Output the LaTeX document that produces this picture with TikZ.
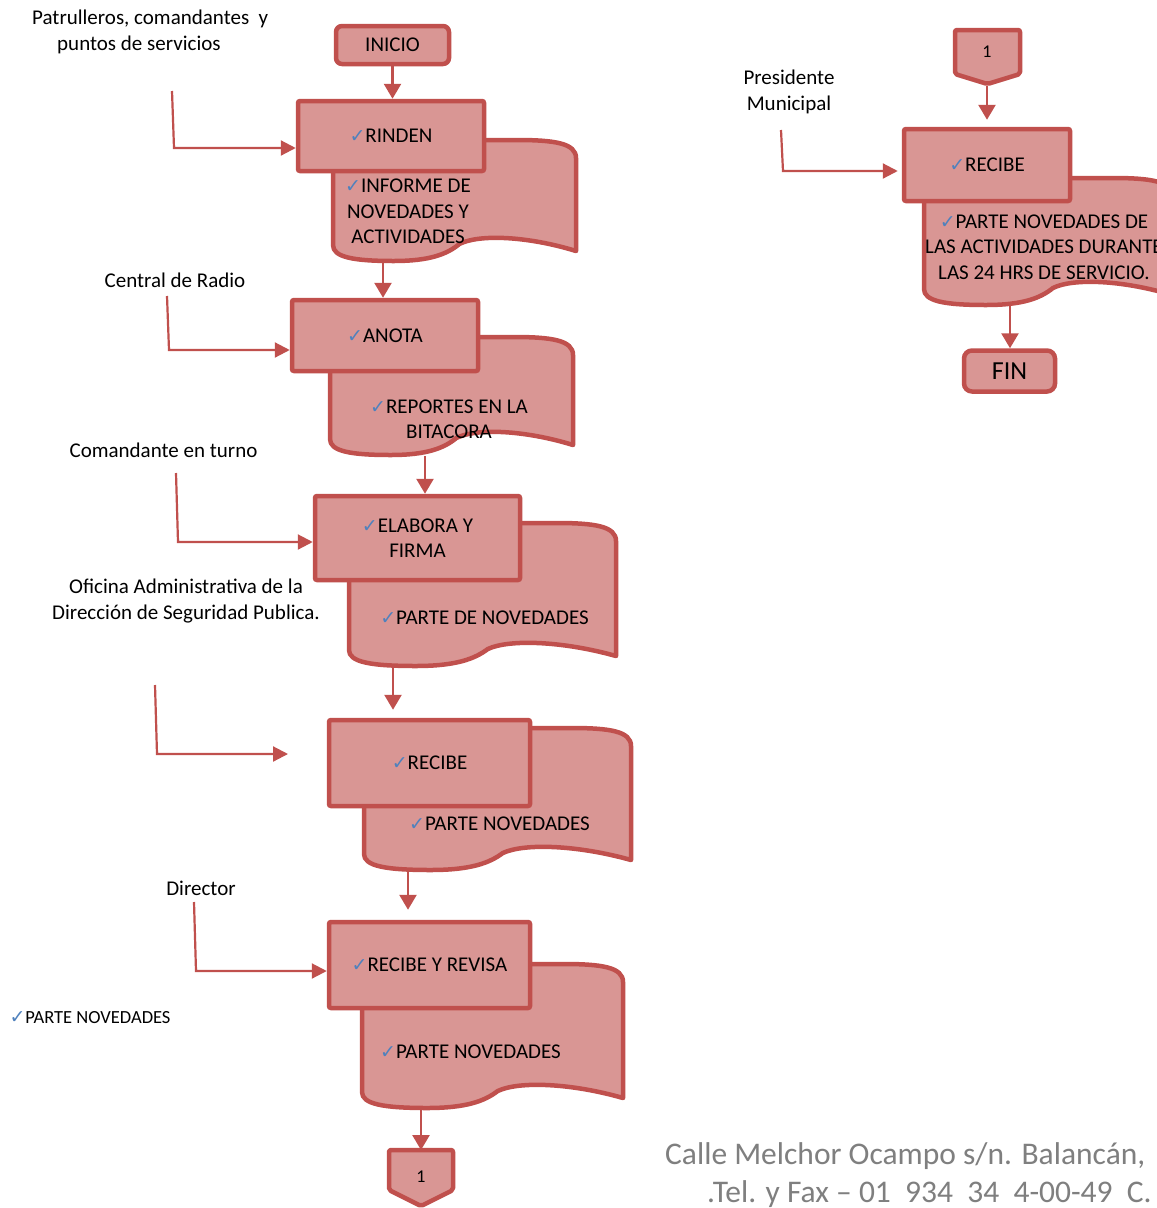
\documentclass[tikz,border=0pt]{standalone}
\usepackage{fontspec}
\setmainfont{Carlito}
\newfontfamily\symf{DejaVu Sans}
\usetikzlibrary{arrows.meta}

\definecolor{edge}{HTML}{C0504D}
\definecolor{fillc}{HTML}{D99694}
\definecolor{chkblue}{HTML}{4F81BD}
\definecolor{foot}{HTML}{7F7F7F}

\newcommand\lbl{\fontsize{21}{26}\selectfont}
\newcommand\boxf{\fontsize{21}{25.5}\selectfont}
\newcommand\chk{{\symf\fontsize{19}{19}\selectfont\color{chkblue}✓}}

% document symbol: left x, right x, top y, bottom y at the right edge
\newcommand\docshape[4]{%
  \path[docbody] (#1,#3) -- ({#2-60},#3)
    .. controls ({#2-22},#3) and (#2,{#3+3}) .. (#2,{#3+18})
    -- (#2,#4)
    .. controls ({#2-0.2*(#2-#1)},{#4-15}) and ({#1+0.6*(#2-#1)},{#4-17}) .. ({#1+0.52*(#2-#1)},{#4-7})
    .. controls ({#1+0.47*(#2-#1)},{#4+3}) and ({#1+0.4*(#2-#1)},{#4+10}) .. ({#1+0.25*(#2-#1)},{#4+10})
    .. controls ({#1+0.08*(#2-#1)},{#4+10}) and (#1,{#4+6}) .. (#1,{#4-6})
    -- cycle;}

\begin{document}
\begin{tikzpicture}[x=1pt,y=-1pt,
  procbox/.style={draw=edge, fill=fillc, line width=4.5pt, rounded corners=2pt,
    inner sep=0pt, align=center, font=\boxf},
  docbody/.style={draw=edge, fill=fillc, line width=4.5pt, line join=round},
  flow/.style={draw=edge, line width=2.6pt, -{Triangle[length=15pt,width=17pt]}},
  feed/.style={draw=edge, line width=2.2pt, -{Triangle[length=15pt,width=15pt]}},
  txt/.style={align=center, font=\lbl, inner sep=0pt},
  doctxt/.style={align=center, font=\boxf, inner sep=0pt},
]
\fill[white] (0,0) rectangle (1157,1208);
\useasboundingbox (0,0) rectangle (1157,1208);

% ---------- left column ----------
\node[procbox, rounded corners=6pt, minimum width=113pt, minimum height=38pt] (ini) at (392.5,45) {INICIO};

\docshape{333}{576}{140}{251}
\node[procbox, minimum width=186pt, minimum height=70pt] (r1) at (391,136) {\chk RINDEN};
\node[doctxt] (t1) at (408,211.5) {\chk INFORME DE\\NOVEDADES Y\\ACTIVIDADES};
\coordinate (d1b) at (383,262);

\docshape{330}{573}{337}{445}
\node[procbox, minimum width=186pt, minimum height=71pt] (r2) at (385,335.5) {\chk ANOTA};
\node[doctxt] (t2) at (449,419.5) {\chk REPORTES EN LA\\BITACORA};
\coordinate (d2b) at (425,456);

\docshape{349}{616}{523}{656}
\node[procbox, minimum width=205pt, minimum height=84pt] (r3) at (417.5,538) {\chk ELABORA Y\\FIRMA};
\node[doctxt] (t3) at (484.5,618) {\chk PARTE DE NOVEDADES};
\coordinate (d3b) at (393,668);

\docshape{364}{631}{728}{860}
\node[procbox, minimum width=201pt, minimum height=86pt] (r4) at (429.5,763) {\chk RECIBE};
\node[doctxt] (t4) at (499.5,824) {\chk PARTE NOVEDADES};
\coordinate (d4b) at (408,872);

\docshape{362}{623}{964}{1098}
\node[procbox, minimum width=201pt, minimum height=86pt] (r5) at (429.5,965) {\chk RECIBE Y REVISA};
\node[doctxt] (t5) at (470.5,1052) {\chk PARTE NOVEDADES};
\coordinate (d5b) at (421,1110);

% off-page connector at the foot of the page
\path[docbody, rounded corners=2pt] (389,1150) -- (453,1150) -- (453,1190) -- (421,1206) -- (389,1190) -- cycle;
\node[txt, font=\fontsize{18}{18}\selectfont] (c1) at (421,1177) {1};
\coordinate (c1top) at (421,1150);

% ---------- right column ----------
\path[docbody, rounded corners=2pt] (955,30) -- (1020,30) -- (1020,74) -- (987.5,84) -- (955,74) -- cycle;
\node[txt, font=\fontsize{18}{18}\selectfont] (c2) at (987,52) {1};
\coordinate (c2tip) at (987,86);

\docshape{924}{1172}{178}{295}
\node[procbox, minimum width=166pt, minimum height=72pt] (rR) at (987,165) {\chk RECIBE};
\node[doctxt] (tR) at (1044,247) {\chk PARTE NOVEDADES DE\\LAS ACTIVIDADES DURANTE\\LAS 24 HRS DE SERVICIO.};
\coordinate (dRb) at (1010,306);

\node[procbox, rounded corners=8pt, minimum width=91pt, minimum height=41pt,
  font=\fontsize{26}{26}\selectfont] (fin) at (1009.5,371) {FIN};

% ---------- flow connectors ----------
\draw[flow] (ini.south) -- (ini.south |- r1.north);
\draw[flow] (d1b) -- (d1b |- r2.north);
\draw[flow] (d2b) -- (d2b |- r3.north);
\draw[flow, shorten >=8pt] (d3b) -- (d3b |- r4.north);
\draw[flow, shorten >=10pt] (d4b) -- (d4b |- r5.north);
\draw[flow] (d5b) -- (c1top);
\draw[flow, shorten >=7pt] (c2tip) -- (c2tip |- rR.north);
\draw[flow] (dRb) -- (dRb |- fin.north);

% ---------- actors and their feed lines ----------
\node[txt, align=left, anchor=west] (a1) at (32,32)
  {Patrulleros, comandantes\ \ y\\\hspace*{25pt}puntos de servicios};
\coordinate (s1) at (172,91);  \coordinate (k1) at (174,148);
\draw[feed] (s1) -- (k1) -- (k1 -| r1.west);

\node[txt] (a2) at (175,280) {Central de Radio};
\coordinate (s2) at (167,296); \coordinate (k2) at (169,350);
\draw[feed] (s2) -- (k2) -- (k2 -| r2.west);

\node[txt] (a3) at (163.5,450) {Comandante en turno};
\coordinate (s3) at (176,473); \coordinate (k3) at (178,542);
\draw[feed] (s3) -- (k3) -- (k3 -| r3.west);

\node[txt] (a4) at (186,601.5) {Oficina Administrativa de la\\Dirección de Seguridad Publica.};
\coordinate (s4) at (155,685); \coordinate (k4) at (157,754); \coordinate (e4) at (288,754);
\draw[feed] (s4) -- (k4) -- (e4);

\node[txt] (a5) at (201,888) {Director};
\coordinate (s5) at (194,902); \coordinate (k5) at (196,971);
\draw[feed] (s5) -- (k5) -- (k5 -| r5.west);

\node[txt, font=\fontsize{18.5}{22}\selectfont] (a6) at (90,1018) {\chk PARTE NOVEDADES};

\node[txt] (a7) at (789,92) {Presidente\\Municipal};
\coordinate (s7) at (781,130); \coordinate (k7) at (783,171);
\draw[feed, shorten >=4pt] (s7) -- (k7) -- (k7 -| rR.west);

% ---------- footer ----------
\node[txt, anchor=base west, text=foot, font=\fontsize{31.5}{38}\selectfont] (f1) at (665,1164)
  {Calle Melchor Ocampo s/n. Balancán,};
\node[txt, anchor=base west, text=foot, font=\fontsize{31.5}{38}\selectfont] (f2) at (707,1202)
  {.Tel. y Fax – 01\ \ 934\ \ 34\ \ 4-00-49\ \ C.};
\end{tikzpicture}
\end{document}
